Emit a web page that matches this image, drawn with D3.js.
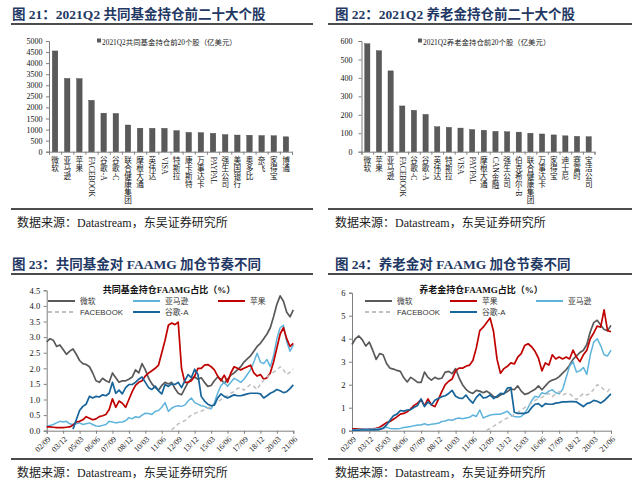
<!DOCTYPE html>
<html>
<head>
<meta charset="utf-8">
<script src="https://cdn.jsdelivr.net/npm/d3@7"></script>
<style>
body { margin: 0; background: #fff; }
</style>
</head>
<body>
<svg id="lienzo"></svg>
<script>
// fuentes: latin con serif, chino cae a Noto Sans CJK
const serif = "'Liberation Serif', 'Times New Roman', 'Noto Sans CJK SC', serif";
const sans = "'Liberation Sans', Arial, 'Noto Sans CJK SC', sans-serif";

// ---- datos fig 21 (共同基金, 亿美元)
const mf_cats = ["微软","亚马逊","苹果","FACEBOOK","谷歌-A","谷歌-C","联合健康集团","摩根大通","英伟达","VISA",
  "特斯拉","康卡斯特","万事达卡","PAYPAL","强生公司","美国银行","奥多比","奈飞","家得宝","博通"];
const mf_vals = [4550,3310,3300,2320,1740,1725,1205,1060,1055,1055,950,872,860,830,770,752,742,728,720,672];

// ---- datos fig 22 (养老金, 亿美元)
const pf_cats = ["微软","苹果","亚马逊","FACEBOOK","谷歌-C","谷歌-A","英伟达","特斯拉","VISA","PAYPAL",
  "摩根大通","CAN金融","强生公司","伯克希尔-B","联合健康集团","万事达卡","家得宝","迪士尼","赛富时","宝洁公司"];
const pf_vals = [585,547,438,248,224,202,135,132,128,120,116,110,108,106,100,96,91,86,83,81];

// ---- eje x trimestral 02/09 .. 21/06 (76 trimestres), etiqueta cada 5
const tick_labels = ["02/09","03/12","05/03","06/06","07/09","08/12","10/03","11/06",
  "12/09","13/12","15/03","16/06","17/09","18/12","20/03","21/06"];

// ---- fig 23 共同基金持仓FAAMG占比（%）
const mf_msft = [2.85,2.95,2.9,2.7,2.75,2.6,2.45,2.55,2.62,2.45,
  2.25,2.15,2.12,2.05,1.85,1.6,1.55,1.68,1.6,1.55,
  1.85,1.7,1.55,1.6,1.6,1.65,1.72,1.95,1.85,2.15,
  1.95,1.68,1.5,1.38,1.3,1.45,1.55,1.5,1.55,1.35,
  1.2,1.15,1.35,1.55,1.65,1.72,1.65,1.7,1.55,1.42,
  1.45,1.6,1.72,1.65,1.52,1.65,1.78,1.85,1.95,2.05,
  2.2,2.3,2.4,2.55,2.7,2.8,2.95,3.1,3.3,3.65,
  4.05,4.32,4.15,3.8,3.65,3.87];
const mf_amzn = [0.14,0.17,0.2,0.25,0.3,0.28,0.3,0.22,0.2,0.22,
  0.25,0.2,0.22,0.25,0.2,0.15,0.14,0.17,0.2,0.3,
  0.28,0.25,0.27,0.28,0.32,0.42,0.38,0.45,0.42,0.5,
  0.56,0.55,0.52,0.62,0.65,0.75,0.9,0.62,0.72,0.78,
  0.8,0.78,0.82,0.95,1.05,0.9,0.85,0.8,0.78,0.72,
  0.7,0.9,1.2,1.45,1.55,1.42,1.55,1.68,1.62,1.55,
  1.65,1.8,1.95,2.2,2.48,2.2,2.15,2.28,2.05,2.4,
  2.95,3.3,3.38,2.85,2.55,2.75];
const mf_aapl = [0.12,0.12,0.11,0.1,0.1,0.1,0.11,0.12,0.18,0.28,
  0.3,0.35,0.45,0.4,0.35,0.38,0.45,0.48,0.52,0.68,
  1.02,0.75,0.95,0.88,0.75,1.0,1.25,1.45,1.55,1.6,
  1.75,1.85,1.92,2.0,2.1,2.5,2.9,3.38,3.45,3.4,
  3.48,2.0,1.55,1.55,1.6,1.75,2.0,2.0,2.1,2.12,
  2.05,1.95,1.75,1.6,1.78,1.55,1.85,2.05,2.0,1.95,
  2.0,2.05,2.1,1.85,1.75,1.8,1.65,1.7,1.85,2.2,
  2.65,3.1,3.3,2.95,2.7,2.8];
const mf_fb = [null,null,null,null,null,null,null,null,null,null,
  null,null,null,null,null,null,null,null,null,null,
  null,null,null,null,null,null,null,null,null,null,
  null,null,null,null,null,null,null,null,0.02,0.12,
  0.22,0.28,0.32,0.42,0.5,0.55,0.6,0.62,0.68,0.72,
  0.78,0.85,0.92,1.0,1.08,1.12,1.2,1.25,1.35,1.38,
  1.3,1.4,1.48,1.42,1.32,1.5,1.62,1.72,1.8,1.88,
  1.95,2.05,1.95,1.8,1.88,1.98];
const mf_goog = [null,null,null,null,null,null,null,null,0.05,0.35,
  0.65,0.78,0.85,1.1,1.05,1.1,1.08,1.15,1.12,1.2,
  1.55,1.2,1.3,1.18,1.38,1.48,1.48,1.55,1.65,1.72,
  1.55,1.38,1.32,1.43,1.28,1.18,1.48,1.42,1.5,1.48,
  1.55,1.38,1.6,1.8,1.7,1.97,1.8,1.1,0.95,0.85,
  0.8,0.82,1.05,1.18,1.1,1.05,1.1,1.15,1.12,1.12,
  1.15,1.18,1.2,1.2,1.2,1.18,1.05,1.12,1.2,1.25,
  1.32,1.28,1.22,1.25,1.35,1.47];

// ---- fig 24 养老金持仓FAAMG占比（%）
const pf_msft = [3.75,4.0,4.12,3.95,3.68,3.85,3.5,3.1,3.35,3.3,
  2.92,2.72,2.68,2.62,2.58,2.3,2.12,2.32,2.22,2.1,
  2.1,2.55,2.32,2.2,2.32,2.25,2.28,2.55,2.58,2.48,
  2.7,2.3,2.0,1.8,1.68,1.62,1.75,1.72,1.65,1.72,
  1.62,1.48,1.45,1.55,1.62,1.7,1.82,1.78,1.95,1.72,
  1.58,1.62,1.72,1.8,1.95,1.78,1.95,2.12,2.2,2.25,
  2.35,2.5,2.65,2.85,3.1,3.25,3.4,3.5,3.75,4.3,
  4.7,4.8,4.6,4.4,4.35,4.58];
const pf_aapl = [0.08,0.08,0.07,0.07,0.06,0.07,0.08,0.1,0.15,0.25,
  0.35,0.4,0.5,0.6,0.72,0.75,0.82,0.95,1.1,1.2,
  1.35,1.08,1.38,1.12,1.05,1.35,1.7,2.0,2.15,2.25,
  2.6,2.72,2.72,2.8,2.85,3.05,3.6,4.35,4.5,4.7,
  4.9,4.3,3.1,2.5,2.7,2.8,2.95,2.9,3.2,3.35,
  3.7,3.78,3.65,3.45,3.15,2.6,2.95,2.85,3.3,3.12,
  3.2,3.12,3.2,3.12,3.5,3.2,3.0,3.3,3.5,4.0,
  4.25,4.55,4.5,5.25,4.35,4.3];
const pf_amzn = [0.03,0.04,0.05,0.06,0.07,0.06,0.07,0.08,0.1,0.12,
  0.15,0.1,0.08,0.08,0.1,0.14,0.16,0.18,0.22,0.25,
  0.25,0.3,0.25,0.28,0.3,0.32,0.4,0.42,0.48,0.45,
  0.52,0.55,0.52,0.55,0.58,0.68,0.62,0.9,0.55,0.62,
  0.68,0.7,0.72,0.72,0.78,0.85,0.68,0.62,0.6,0.62,
  0.75,1.0,1.3,1.5,1.45,1.65,1.6,1.72,1.78,1.65,
  1.6,1.8,2.3,2.8,3.0,2.55,2.6,2.75,2.45,3.3,
  3.85,4.0,3.7,3.3,3.25,3.5];
const pf_fb = [null,null,null,null,null,null,null,null,null,null,
  null,null,null,null,null,null,null,null,null,null,
  null,null,null,null,null,null,null,null,null,null,
  null,null,null,null,null,null,null,null,null,0.02,
  0.1,0.2,0.28,0.38,0.48,0.55,0.6,0.72,0.8,0.9,
  1.0,1.1,1.2,1.32,1.4,1.45,1.55,1.62,1.48,1.6,
  1.7,1.55,1.62,1.6,1.48,1.35,1.48,1.62,1.55,1.62,
  1.8,2.0,1.92,1.78,1.7,1.9];
const pf_goog = [0.02,0.02,0.02,0.03,0.03,0.03,0.04,0.04,0.05,0.1,
  0.25,0.45,0.65,0.72,0.88,0.85,0.9,0.92,1.02,1.1,
  1.38,1.05,1.25,1.12,1.32,1.4,1.48,1.52,1.62,1.75,
  1.5,1.42,1.4,1.55,1.35,1.2,1.45,1.6,1.42,1.45,
  1.55,1.4,1.5,1.62,1.6,1.85,1.88,0.8,0.75,0.75,
  0.75,0.8,1.0,1.15,1.18,1.05,1.18,1.15,1.15,1.2,
  1.22,1.25,1.25,1.26,1.26,1.25,1.15,1.05,1.18,1.22,
  1.32,1.28,1.2,1.3,1.45,1.6];

// colores de las series
const c_gris = "#595959", c_celeste = "#5eb3dc", c_rojo = "#c00000",
      c_fb = "#bfbfbf", c_azul = "#16649a";

const svg = d3.select("#lienzo").attr("width", 640).attr("height", 488);
svg.append("rect").attr("width", 640).attr("height", 488).style("fill", "#fff");

// titulo del panel con su raya debajo
function encabezado(x_texto, y_texto, x0, x1, y_linea, titulo) {
  svg.append("text")
    .attr("x", x_texto).attr("y", y_texto)
    .text(titulo)
    .style("font-family", serif).style("font-size", "13.5px")
    .style("font-weight", "bold").style("fill", "#1f3864");
  svg.append("line")
    .attr("x1", x0).attr("x2", x1).attr("y1", y_linea).attr("y2", y_linea)
    .style("stroke", "#111").style("stroke-width", 1.4);
}

// raya inferior y fuente
function pie(x_texto, y_texto, x0, x1, y_linea) {
  svg.append("line")
    .attr("x1", x0).attr("x2", x1).attr("y1", y_linea).attr("y2", y_linea)
    .style("stroke", "#111").style("stroke-width", 1.4);
  svg.append("text")
    .attr("x", x_texto).attr("y", y_texto)
    .text("数据来源：Datastream，东吴证券研究所")
    .style("font-family", serif).style("font-size", "12px").style("fill", "#222");
}

function estilo_eje(eje) {
  eje.select(".domain").style("stroke", "#7f7f7f");
  eje.selectAll(".tick line").style("stroke", "#7f7f7f");
  eje.selectAll(".tick text").style("font-family", serif).style("fill", "#111");
}

// etiqueta vertical: cada caracter chino apilado, los trozos latinos girados 90°
const es_cjk = ch => /[\u3000-\u9fff\uff00-\uffef]/.test(ch);
function etiqueta_vertical(g, texto, cx, y_ini, fs) {
  let y = y_ini;
  let trozo = "";
  const volcar = () => {
    if (!trozo) return;
    const t = g.append("text")
      .attr("transform", `translate(${cx - fs * 0.33},${y}) rotate(90)`)
      .text(trozo)
      .style("font-family", serif).style("font-size", fs + "px").style("fill", "#111");
    y += t.node().getComputedTextLength() + 0.5;
    trozo = "";
  };
  for (const ch of texto) {
    if (es_cjk(ch)) {
      volcar();
      g.append("text").attr("x", cx).attr("y", y + fs * 0.88)
        .attr("text-anchor", "middle").text(ch)
        .style("font-family", serif).style("font-size", fs + "px").style("fill", "#111");
      y += fs * 1.05;
    } else {
      trozo += ch;
    }
  }
  volcar();
}

// grafico de barras con etiquetas verticales
function barras(cfg) {
  const x = d3.scaleBand().domain(cfg.cats).range([cfg.x0, cfg.x1])
    .paddingInner(0.55).paddingOuter(0.275);
  const y = d3.scaleLinear().domain([0, cfg.ymax]).range([cfg.y0, cfg.y1]);

  const eje_y = svg.append("g").attr("transform", `translate(${cfg.x0},0)`)
    .call(d3.axisLeft(y).tickValues(d3.range(0, cfg.ymax + 1, cfg.paso))
      .tickSize(3).tickPadding(cfg.tpad).tickFormat(d3.format("d")));
  estilo_eje(eje_y);
  eje_y.selectAll(".tick text").style("font-size", "8px");

  // marcas entre categorias
  const xb = d3.scaleLinear().domain([0, cfg.cats.length]).range([cfg.x0, cfg.x1]);
  const eje_x = svg.append("g").attr("transform", `translate(0,${cfg.y0})`)
    .call(d3.axisBottom(xb).tickValues(d3.range(cfg.cats.length + 1)).tickSize(3).tickFormat(""));
  estilo_eje(eje_x);

  svg.append("g").selectAll("rect").data(cfg.vals).join("rect")
    .attr("x", (d, i) => x(cfg.cats[i]))
    .attr("y", d => y(d))
    .attr("width", x.bandwidth())
    .attr("height", d => cfg.y0 - y(d))
    .style("fill", "#5a5a5a").style("stroke", "#404040").style("stroke-width", 0.4);

  const g_et = svg.append("g");
  cfg.cats.forEach(c => etiqueta_vertical(g_et, c, x(c) + x.bandwidth() / 2, cfg.y0 + 5, 7.6));

  // leyenda
  svg.append("rect").attr("x", cfg.lx).attr("y", cfg.ly - 3.5).attr("width", 4).attr("height", 4)
    .style("fill", "#5a5a5a");
  svg.append("text").attr("x", cfg.lx + 5).attr("y", cfg.ly + 2.5).text(cfg.leyenda)
    .style("font-family", serif).style("font-size", "7.4px").style("fill", "#222");
}

// grafico de lineas trimestrales
function lineas(cfg) {
  const x = d3.scaleLinear().domain([0, 75]).range([cfg.x0, cfg.x1]);
  const y = d3.scaleLinear().domain([0, cfg.ymax]).range([cfg.y0, cfg.y1]);

  const eje_y = svg.append("g").attr("transform", `translate(${cfg.x0},0)`)
    .call(d3.axisLeft(y).tickValues(d3.range(0, cfg.ymax + 0.001, cfg.paso))
      .tickSize(3).tickPadding(3.5).tickFormat(d3.format(cfg.fmt)));
  estilo_eje(eje_y);
  eje_y.selectAll(".tick text").style("font-size", "8.5px");

  const eje_x = svg.append("g").attr("transform", `translate(0,${cfg.y0})`)
    .call(d3.axisBottom(x).tickValues(d3.range(0, 76, 5)).tickSize(3)
      .tickFormat((d, i) => tick_labels[i]));
  estilo_eje(eje_x);
  eje_x.selectAll(".tick text")
    .attr("x", 0).attr("y", 0).attr("dy", "0.35em")
    .attr("text-anchor", "end")
    .attr("transform", "translate(2,7) rotate(-45)")
    .style("font-size", "8px");

  const linea = d3.line().defined(d => d != null)
    .x((d, i) => x(i)).y(d => y(d));

  cfg.series.forEach(s => {
    svg.append("path").datum(s.vals)
      .attr("d", linea)
      .style("fill", "none").style("stroke", s.color)
      .style("stroke-width", s.ancho)
      .style("stroke-dasharray", s.dash ? "4,3" : null)
      .style("stroke-linejoin", "round");
  });

  // titulo interno
  svg.append("text").attr("x", cfg.tx).attr("y", cfg.ty).attr("text-anchor", "middle")
    .text(cfg.titulo)
    .style("font-family", serif).style("font-size", "9px").style("font-weight", "bold").style("fill", "#111");

  // leyenda
  cfg.series.forEach(s => {
    svg.append("line").attr("x1", s.lx).attr("x2", s.lx + 27).attr("y1", s.ly).attr("y2", s.ly)
      .style("stroke", s.color).style("stroke-width", 2)
      .style("stroke-dasharray", s.dash ? "4,3" : null);
    svg.append("text").attr("x", s.lx + 32).attr("y", s.ly + 3).text(s.nombre)
      .style("font-family", sans).style("font-size", "7.8px").style("fill", "#333");
  });
}

// ---- paneles superiores
encabezado(12, 18.5, 11, 313, 24, "图 21：2021Q2 共同基金持仓前二十大个股");
encabezado(335, 18.5, 328, 632, 24, "图 22：2021Q2 养老金持仓前二十大个股");

barras({cats: mf_cats, vals: mf_vals, x0: 49, x1: 292, y0: 151.7, y1: 41, ymax: 5000, paso: 500,
  tpad: 3.5, lx: 97, ly: 42, leyenda: "2021Q2共同基金持仓前20个股（亿美元）"});
barras({cats: pf_cats, vals: pf_vals, x0: 361.5, x1: 594.5, y0: 151.7, y1: 41, ymax: 600, paso: 100,
  tpad: 6, lx: 418, ly: 42, leyenda: "2021Q2养老金持仓前20个股（亿美元）"});

pie(17, 227, 11, 313, 209);
pie(335, 227, 328, 632, 209);

// ---- paneles inferiores
encabezado(12, 268.5, 11, 313, 274, "图 23：共同基金对 FAAMG 加仓节奏不同");
encabezado(335, 268.5, 328, 632, 274, "图 24：养老金对 FAAMG 加仓节奏不同");

lineas({x0: 46.7, x1: 293.3, y0: 430.7, y1: 290.3, ymax: 4.5, paso: 0.5, fmt: ".1f",
  titulo: "共同基金持仓FAAMG占比（%）", tx: 169, ty: 292.5,
  series: [
    {nombre: "微软", vals: mf_msft, color: c_gris, ancho: 1.7, lx: 48, ly: 301},
    {nombre: "亚马逊", vals: mf_amzn, color: c_celeste, ancho: 1.5, lx: 133, ly: 301},
    {nombre: "苹果", vals: mf_aapl, color: c_rojo, ancho: 1.7, lx: 218, ly: 301},
    {nombre: "FACEBOOK", vals: mf_fb, color: c_fb, ancho: 1.5, dash: true, lx: 48, ly: 312},
    {nombre: "谷歌-A", vals: mf_goog, color: c_azul, ancho: 1.7, lx: 133, ly: 312}
  ]});

lineas({x0: 352, x1: 611, y0: 430.7, y1: 292.7, ymax: 6, paso: 1, fmt: "d",
  titulo: "养老金持仓FAAMG占比（%）", tx: 481, ty: 292.5,
  series: [
    {nombre: "微软", vals: pf_msft, color: c_gris, ancho: 1.7, lx: 365, ly: 301},
    {nombre: "苹果", vals: pf_aapl, color: c_rojo, ancho: 1.7, lx: 450, ly: 301},
    {nombre: "亚马逊", vals: pf_amzn, color: c_celeste, ancho: 1.5, lx: 536, ly: 301},
    {nombre: "FACEBOOK", vals: pf_fb, color: c_fb, ancho: 1.5, dash: true, lx: 365, ly: 312},
    {nombre: "谷歌-A", vals: pf_goog, color: c_azul, ancho: 1.7, lx: 450, ly: 312}
  ]});

pie(17, 477, 11, 313, 459);
pie(335, 477, 328, 632, 459);
</script>
</body>
</html>
